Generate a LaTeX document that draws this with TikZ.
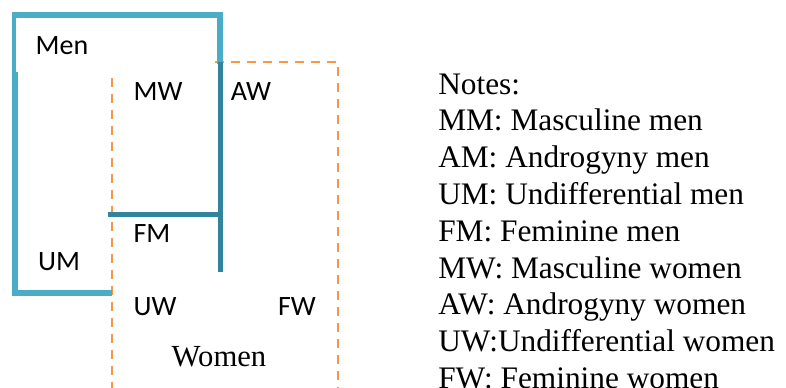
\documentclass[tikz,border=0pt]{standalone}
\usepackage{fontspec}
\setmainfont{Liberation Serif}
\newfontfamily\calibri{Carlito}
\definecolor{menblue}{HTML}{4BACC6}
\definecolor{mendark}{HTML}{31849B}
\definecolor{womenorange}{HTML}{F79646}
\tikzset{
  grouplabel/.style={font=\calibri\fontsize{21}{25}\selectfont, inner sep=0pt},
  notetext/.style={font=\fontsize{23.5}{28}\selectfont, inner sep=0pt, anchor=base west}
}

\begin{document}
\begin{tikzpicture}[x=0.75pt, y=-0.75pt]
\clip (0,0) rectangle (786,387);

% Women (dashed area)
\draw[womenorange, line width=1.8pt, dash pattern=on 6.8pt off 5.2pt] (112,62) rectangle (338,420);

% Men outline
\draw[menblue, line width=4.5pt] (112,292.5) -- (15,292.5) -- (15,15) -- (220,15) -- (220,64);
\fill[white] (15.5,17.5) rectangle (211,72);

% inner split of the men area
\draw[mendark, line width=4pt] (220.5,62) -- (220.5,272);
\draw[mendark, line width=4pt] (108,214.5) -- (222,214.5);

% Labels
\node[grouplabel] (men) at (62,46) {Men};
\node[grouplabel] (mw) at (158,92) {MW};
\node[grouplabel] (aw) at (251,92) {AW};
\node[grouplabel] (fm) at (152,234) {FM};
\node[grouplabel] (um) at (59,262) {UM};
\node[grouplabel] (uw) at (155,307) {UW};
\node[grouplabel] (fw) at (297,307) {FW};
\node[inner sep=0pt, font=\fontsize{23}{27}\selectfont] (women) at (219,357) {Women};

% Notes
\foreach \t [count=\i from 0] in {Notes:, MM: Masculine men, AM: Androgyny men,
    UM: Undifferential men, FM: Feminine men, MW: Masculine women,
    AW: Androgyny women, UW:Undifferential women, FW: Feminine women}
  \node[notetext] (note\i) at (438,94+36.8*\i) {\t};

\end{tikzpicture}
\end{document}
